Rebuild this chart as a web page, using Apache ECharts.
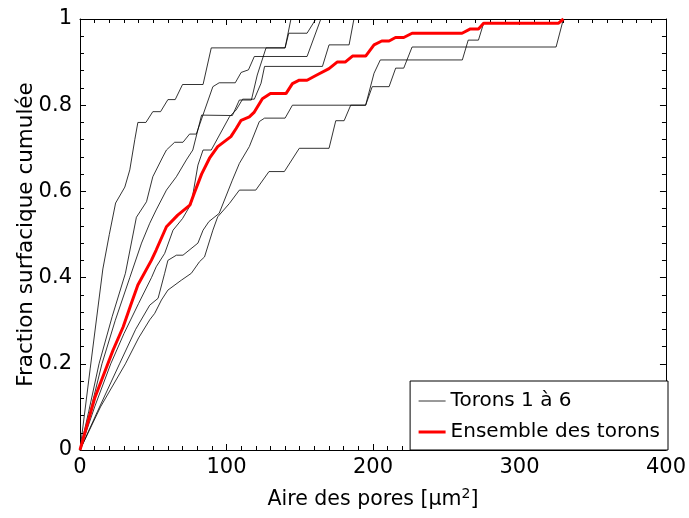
<!DOCTYPE html>
<html><head><meta charset="utf-8">
<script src="https://cdn.jsdelivr.net/npm/echarts@6/dist/echarts.min.js"></script>
<style>html,body{margin:0;padding:0;background:#fff}#c{width:689px;height:518px}</style>
</head><body><div id="c"></div>
<script>
// ---- data (x: pore area µm², y: cumulative surface fraction) ----
const toron1 = [[0,0],[7,0.19],[15.6,0.42],[20,0.5],[24.3,0.573],[30.6,0.61],[34,0.65],[37.4,0.72],[39.5,0.76],[45,0.76],[49.7,0.785],[55,0.785],[60,0.813],[65,0.813],[70,0.848],[84,0.848],[89.6,0.933],[140,0.933],[144,1.0]];
const toron2 = [[0,0],[6,0.09],[13,0.2],[22,0.31],[31,0.41],[38.5,0.54],[45.4,0.576],[49.7,0.634],[56.5,0.68],[59,0.696],[64.6,0.714],[70.3,0.714],[74.8,0.733],[79.4,0.733],[90.7,0.843],[95,0.852],[106,0.852],[110,0.876],[115,0.882],[119,0.913],[155,0.913],[164.4,1.0]];
const toron3 = [[0,0],[7,0.09],[15,0.2],[24,0.3],[34,0.4],[42,0.48],[47.6,0.526],[52,0.557],[59,0.603],[65.8,0.634],[72.6,0.673],[77,0.696],[83,0.777],[104,0.776],[108.8,0.812],[117,0.812],[121,0.87],[127,0.933],[140,0.933],[142.5,0.967],[155,0.967],[161,1.0]];
const toron4 = [[0,0],[10,0.1],[21,0.2],[30,0.27],[40,0.34],[48.8,0.4],[52,0.425],[57.8,0.456],[63.5,0.51],[70,0.537],[76,0.572],[80.5,0.661],[84,0.696],[89.6,0.696],[102,0.773],[106.6,0.789],[111,0.814],[119,0.814],[123.6,0.851],[126,0.89],[165.5,0.89],[170,0.94],[183.7,0.94],[187,1.0]];
const toron5 = [[0,0],[12,0.09],[27,0.2],[38,0.28],[47.6,0.336],[53.3,0.352],[57.8,0.41],[60,0.44],[65.8,0.452],[70.3,0.452],[80.5,0.48],[84,0.51],[88,0.53],[95,0.549],[104,0.626],[108.8,0.665],[115.6,0.704],[122.4,0.762],[126,0.77],[140,0.77],[145,0.8],[195,0.8],[199.5,0.843],[211,0.843],[215.5,0.886],[221,0.886],[226.7,0.935],[325,0.935],[330,1.0]];
const toron6 = [[0,0],[14,0.1],[31,0.2],[40,0.26],[47.6,0.302],[51,0.317],[55.6,0.348],[60,0.371],[69.2,0.394],[76,0.41],[81.6,0.437],[85,0.448],[90.7,0.51],[94,0.541],[102,0.572],[108.8,0.603],[120,0.603],[129,0.646],[139.5,0.646],[149.7,0.7],[170,0.7],[174.6,0.764],[180.3,0.764],[184.8,0.8],[195,0.8],[200.7,0.874],[205,0.905],[261,0.905],[265,0.951],[272,0.951],[275.5,0.99],[326.5,0.99],[330,1.0]];
const ensemble = [[0,0],[5,0.06],[10,0.12],[14.7,0.162],[22.6,0.232],[29.5,0.286],[35,0.34],[39.5,0.383],[48.7,0.44],[52,0.464],[59,0.518],[66.7,0.545],[75,0.568],[78,0.596],[83,0.64],[88.4,0.677],[94,0.704],[103,0.727],[106.6,0.746],[110,0.765],[115.6,0.773],[119,0.784],[124.5,0.815],[130,0.827],[140.6,0.827],[145,0.85],[149.7,0.858],[155,0.858],[161,0.869],[170,0.885],[175.5,0.9],[181,0.9],[186,0.914],[195,0.914],[200.7,0.94],[206,0.949],[211,0.949],[215.4,0.957],[221,0.957],[226.7,0.967],[260.8,0.967],[266.5,0.977],[272,0.977],[275.5,0.99],[326.5,0.99],[330,1.0]];
const torons = [toron1, toron2, toron3, toron4, toron5, toron6];
const nameTorons = 'Torons 1 à 6';
const nameEnsemble = 'Ensemble des torons';
const xTitle = 'Aire des pores [μm{s|2}]';
const yTitle = 'Fraction surfacique cumulée';

const FONT = 'DejaVu Sans';
const chart = echarts.init(document.getElementById('c'), null, {renderer:'canvas'});
const tickStyle = {show:true, inside:true, length:6, lineStyle:{color:'#000', width:1}};
const minorStyle = {show:true, length:4, lineStyle:{color:'#000', width:1}};
const lineStyleAxis = {show:true, onZero:false, lineStyle:{color:'#000', width:1}};
const baseX = {type:'value', min:0, max:400, interval:100, splitLine:{show:false},
  axisLine:lineStyleAxis, axisTick:tickStyle,
  minorTick:Object.assign({splitNumber:10}, minorStyle), minorSplitLine:{show:false}};
const baseY = {type:'value', min:0, max:1, interval:0.2, splitLine:{show:false},
  axisLine:lineStyleAxis, axisTick:tickStyle,
  minorTick:Object.assign({splitNumber:5}, minorStyle), minorSplitLine:{show:false}};

const series = torons.map(d => ({name:nameTorons, type:'line', data:d, symbol:'none', showSymbol:false,
  lineStyle:{color:'#000', width:0.8}, itemStyle:{color:'#000'}, z:2, animation:false}));
series.push({name:nameEnsemble, type:'line', data:ensemble, symbol:'none', showSymbol:false,
  lineStyle:{color:'#ff0000', width:3}, itemStyle:{color:'#ff0000'}, z:3, animation:false});

chart.setOption({
  animation:false,
  backgroundColor:'#fff',
  grid:{left:80, right:21, top:19, bottom:68, containLabel:false},
  xAxis:[
    Object.assign({}, baseX, {position:'bottom', name:xTitle, nameLocation:'middle', nameGap:37,
      nameMoveOverlap:false,
      nameTextStyle:{fontFamily:FONT, fontSize:20.5, color:'#000', rich:{s:{fontFamily:FONT, fontSize:14, verticalAlign:'top', padding:[0,0,12,0]}}},
      axisLabel:{fontFamily:FONT, fontSize:21, color:'#000', margin:7}}),
    Object.assign({}, baseX, {position:'top', axisLabel:{show:false}})
  ],
  yAxis:[
    Object.assign({}, baseY, {position:'left', name:yTitle, nameLocation:'middle', nameGap:43,
      nameMoveOverlap:false,
      nameTextStyle:{fontFamily:FONT, fontSize:21.5, color:'#000'},
      axisLabel:{fontFamily:FONT, fontSize:21, color:'#000', margin:8,
        formatter:v => (v===0||v===1) ? String(v) : v.toFixed(1)}}),
    Object.assign({}, baseY, {position:'right', axisLabel:{show:false}})
  ],
  legend:{
    data:[
      {name:nameTorons, lineStyle:{color:'#000', width:0.8}},
      {name:nameEnsemble, lineStyle:{color:'#ff0000', width:3}}
    ],
    orient:'vertical', right:21, bottom:68,
    backgroundColor:'#fff', borderColor:'#000', borderWidth:1, borderRadius:0,
    padding:[10,8,8,7], itemGap:11, itemWidth:27, itemHeight:14,
    itemStyle:{opacity:0},
    textStyle:{fontFamily:FONT, fontSize:20, color:'#000'}
  },
  series:series
});
</script></body></html>
